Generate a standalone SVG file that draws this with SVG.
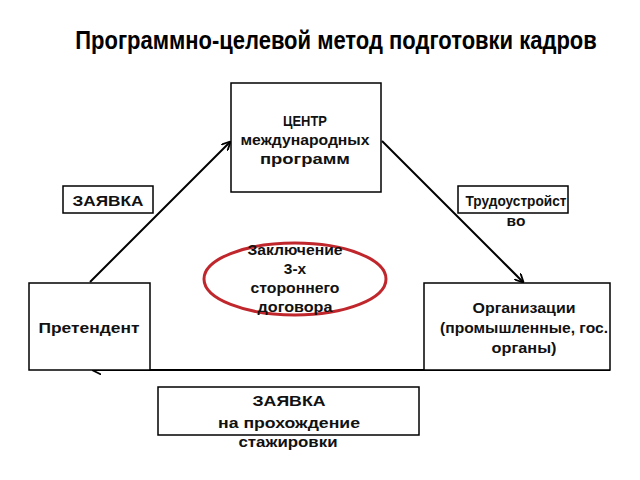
<svg xmlns="http://www.w3.org/2000/svg" width="640" height="480" viewBox="0 0 640 480">
<defs>
<style>
.box{fill:#fff;stroke:#000;stroke-width:1.5}
.t{font-family:"Liberation Sans","Arial",sans-serif;font-size:15.5px;font-weight:bold;fill:#111;text-anchor:middle}
.c{stroke:#000;stroke-width:2;fill:none}
</style>
<marker id="ah" viewBox="0 0 10 10" refX="9" refY="5" markerWidth="9" markerHeight="9" orient="auto" markerUnits="userSpaceOnUse">
<path d="M0,0 L10,5 L0,10" fill="none" stroke="#000" stroke-width="2"/>
</marker>
</defs>
<rect width="640" height="480" fill="#fff"/>
<text transform="translate(336,49) scale(0.88,1)" x="0" y="0" font-family="'Liberation Sans',sans-serif" font-size="25" font-weight="bold" text-anchor="middle">Программно-целевой метод подготовки кадров</text>
<g id="connectors">
<line class="c" x1="90" y1="282" x2="230" y2="142" marker-end="url(#ah)"/>
<line class="c" x1="382" y1="141" x2="523" y2="282" marker-end="url(#ah)"/>
<line class="c" x1="610" y1="370" x2="93" y2="370" stroke-width="3" marker-end="url(#ah)"/>
</g>
<g id="center">
<rect class="box" x="231" y="83" width="150" height="109"/>
<text class="t" x="305" y="126" textLength="44" lengthAdjust="spacingAndGlyphs">ЦЕНТР</text>
<text class="t" x="305" y="145" textLength="129" lengthAdjust="spacingAndGlyphs">международных</text>
<text class="t" x="305" y="164" textLength="90" lengthAdjust="spacingAndGlyphs">программ</text>
</g>
<g id="zayavka1">
<rect class="box" x="63" y="186" width="90" height="27"/>
<text class="t" x="108" y="206" textLength="71" lengthAdjust="spacingAndGlyphs">ЗАЯВКА</text>
</g>
<g id="trud">
<rect class="box" x="458" y="186" width="110" height="27"/>
<text class="t" x="516" y="206" textLength="101" lengthAdjust="spacingAndGlyphs">Трудоустройст</text>
<text class="t" x="516" y="226">во</text>
</g>
<g id="pretendent">
<rect class="box" x="29" y="283" width="121" height="87"/>
<text class="t" x="89" y="333" textLength="101" lengthAdjust="spacingAndGlyphs">Претендент</text>
</g>
<g id="org">
<rect class="box" x="424" y="283" width="186" height="87"/>
<text class="t" x="524" y="313" textLength="103" lengthAdjust="spacingAndGlyphs">Организации</text>
<text class="t" x="524" y="333" textLength="168" lengthAdjust="spacingAndGlyphs">(промышленные, гос.</text>
<text class="t" x="524" y="353" textLength="65" lengthAdjust="spacingAndGlyphs">органы)</text>
</g>
<g id="contract">
<ellipse cx="295" cy="279" rx="91" ry="36" fill="none" stroke="#c0272d" stroke-width="3"/>
<text class="t" x="295" y="255" textLength="95" lengthAdjust="spacingAndGlyphs">Заключение</text>
<text class="t" x="295" y="274">3-х</text>
<text class="t" x="295" y="293" textLength="89" lengthAdjust="spacingAndGlyphs">стороннего</text>
<text class="t" x="295" y="312" textLength="75" lengthAdjust="spacingAndGlyphs">договора</text>
</g>
<g id="zayavka2">
<rect class="box" x="158" y="387" width="261" height="48"/>
<text class="t" x="289" y="406" textLength="73" lengthAdjust="spacingAndGlyphs">ЗАЯВКА</text>
<text class="t" x="289" y="428" textLength="142" lengthAdjust="spacingAndGlyphs">на прохождение</text>
<text class="t" x="288" y="447" textLength="99" lengthAdjust="spacingAndGlyphs">стажировки</text>
</g>
</svg>
